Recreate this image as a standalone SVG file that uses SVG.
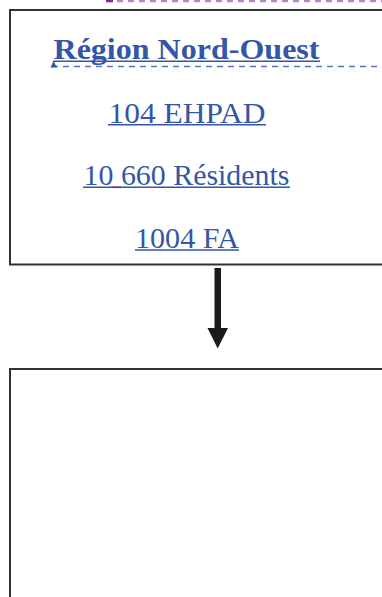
<svg xmlns="http://www.w3.org/2000/svg" width="382" height="597" viewBox="0 0 382 597">
<style>
.box{fill:#ffffff;stroke:#333333;stroke-width:2}
.t{font-family:"Liberation Serif","Times New Roman",serif;fill:#3456a8;text-anchor:middle}
.ul{stroke:#3456a8;stroke-width:1.6}
</style>
<rect width="382" height="597" fill="#ffffff"/>
<g id="top-fragment">
<line x1="106" y1="1" x2="382" y2="1" stroke="#b884c4" stroke-width="2.4" stroke-dasharray="6 5"/>
<line x1="106" y1="1" x2="113" y2="1" stroke="#8a2a8a" stroke-width="2.4"/>
</g>
<g id="node-region">
<rect class="box" x="10" y="10" width="380" height="254.5"/>
<line x1="52" y1="66.5" x2="382" y2="66.5" stroke="#5675c4" stroke-width="1.4" stroke-dasharray="6 5"/>
<polygon points="50.5,67.5 53.5,61 57,67.5" fill="#3456a8"/>
<text class="t" x="186.5" y="59" font-size="29" font-weight="bold" textLength="266" lengthAdjust="spacingAndGlyphs">Région Nord-Ouest</text>
<line class="ul" x1="53" y1="61.3" x2="320" y2="61.3"/>
<text class="t" x="187" y="122.5" font-size="29" textLength="157" lengthAdjust="spacingAndGlyphs">104 EHPAD</text>
<line class="ul" x1="108" y1="124.8" x2="266" y2="124.8"/>
<text class="t" x="186.5" y="185" font-size="29" textLength="206" lengthAdjust="spacingAndGlyphs">10 660 Résidents</text>
<line class="ul" x1="83" y1="187.3" x2="290" y2="187.3"/>
<line x1="112" y1="187.3" x2="121" y2="187.3" stroke="#8a2a7a" stroke-width="1.6"/>
<text class="t" x="187" y="247.5" font-size="29" textLength="104" lengthAdjust="spacingAndGlyphs">1004 FA</text>
<line class="ul" x1="135" y1="250" x2="239" y2="250"/>
</g>
<g id="connectors">
<rect x="214.5" y="268" width="6.5" height="61" fill="#1a1a1a"/>
<polygon points="207.5,328 228,328 217.7,348.5" fill="#1a1a1a"/>
</g>
<g id="node-bottom">
<rect class="box" x="10" y="369" width="380" height="240"/>
</g>
</svg>
